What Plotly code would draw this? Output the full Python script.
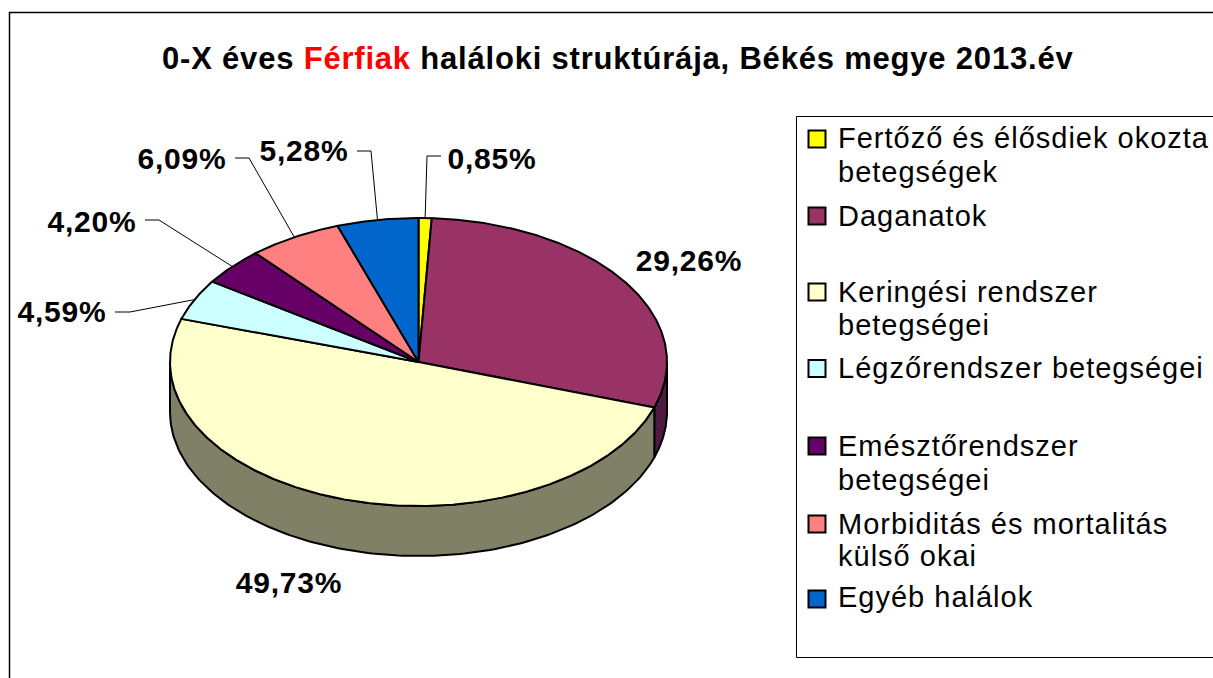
import numpy as np
import plotly.graph_objects as go

# ---- data ----
categories = ["Fertőző és élősdiek okozta betegségek", "Daganatok", "Keringési rendszer betegségei",
              "Légzőrendszer betegségei", "Emésztőrendszer betegségei",
              "Morbiditás és mortalitás külső okai", "Egyéb halálok"]
legend_lines = [["Fertőző és élősdiek okozta", "betegségek"], ["Daganatok"], ["Keringési rendszer", "betegségei"],
                ["Légzőrendszer betegségei"], ["Emésztőrendszer", "betegségei"],
                ["Morbiditás és mortalitás", "külső okai"], ["Egyéb halálok"]]
values = [0.85, 29.26, 49.73, 4.59, 4.20, 6.09, 5.28]
title_parts = ["0-X éves ", "Férfiak", " haláloki struktúrája, Békés megye 2013.év"]

# ---- styles and layout ----
colors = ["#FFFF00", "#993366", "#FFFFCC", "#CCFFFF", "#660066", "#FF8080", "#0066CC"]
side_colors = ["#808000", "#4F1A3F", "#808066", "#668080", "#330033", "#804040", "#003366"]
CX, CY, RX, RY, DEPTH = 418.5, 362, 248.5, 144, 50
FONT = "Liberation Sans, Arial, sans-serif"
label_pos = [(492, 161), (689, 263), (289, 585), (62, 314), (92, 224), (182, 161), (304, 153)]
elbows = [[(427, 156), (441, 156)], None, None, [(130, 312), (115, 312)], [(159, 220), (145, 220)],
          [(249, 158), (235, 158)], [(371, 151), (357, 151)]]
legend_sw_y = [139, 216, 292, 368.5, 446, 524, 599]
legend_txt_y = [[138, 172], [216], [292, 325], [368], [446, 480], [524, 556], [597]]


def px(theta):
    return CX + RX * np.sin(theta), CY - RY * np.cos(theta)


def spaced(text, gap):
    return f"<span style='letter-spacing:{gap}px'>{text}</span>"


fig = go.Figure()
total = sum(values)
edges = np.cumsum([0] + values) / total * 2 * np.pi

# side walls (front half only)
for i, v in enumerate(values):
    a, b = max(edges[i], np.pi / 2), min(edges[i + 1], 3 * np.pi / 2)
    if b <= a:
        continue
    t = np.linspace(a, b, 160)
    x, y = px(t)
    fig.add_trace(go.Scatter(
        x=np.r_[x, x[::-1], x[0]], y=np.r_[y, (y + DEPTH)[::-1], y[0]],
        mode="lines", fill="toself", fillcolor=side_colors[i],
        line=dict(color="black", width=2), hoverinfo="skip", showlegend=False))

# top face wedges
for i, v in enumerate(values):
    t = np.linspace(edges[i], edges[i + 1], max(4, int(v * 8)))
    x, y = px(t)
    fig.add_trace(go.Scatter(
        x=np.r_[CX, x, CX], y=np.r_[CY, y, CY],
        mode="lines", fill="toself", fillcolor=colors[i], name=categories[i],
        line=dict(color="black", width=2), hoverinfo="name", showlegend=False))

# leader lines
for i, el in enumerate(elbows):
    if el is None:
        continue
    x0, y0 = px((edges[i] + edges[i + 1]) / 2)
    fig.add_trace(go.Scatter(
        x=[x0] + [p[0] for p in el], y=[y0] + [p[1] for p in el], mode="lines",
        line=dict(color="black", width=1), hoverinfo="skip", showlegend=False))

# percentage labels
fig.add_trace(go.Scatter(
    x=[p[0] for p in label_pos], y=[p[1] for p in label_pos],
    text=["<b>" + spaced(f"{v:.2f}%".replace(".", ","), 0.8) + "</b>" for v in values],
    mode="text", textposition="middle center",
    textfont=dict(family=FONT, size=30, color="black"),
    hoverinfo="skip", showlegend=False))

# legend swatches
fig.add_trace(go.Scatter(
    x=[817] * len(values), y=legend_sw_y, mode="markers",
    marker=dict(symbol="square", size=17, color=colors, line=dict(color="black", width=2)),
    hoverinfo="skip", showlegend=False))

annotations = []
for lines, ys in zip(legend_lines, legend_txt_y):
    for txt, yy in zip(lines, ys):
        annotations.append(dict(x=836, y=yy, xref="x", yref="y", text=spaced(txt, 1), showarrow=False,
                                xanchor="left", yanchor="middle", align="left",
                                font=dict(family=FONT, size=29, color="black")))
title_html = ("<b>" + spaced(title_parts[0], 0.8)
              + "<span style='color:#FF0000;letter-spacing:0.8px'>" + title_parts[1] + "</span>"
              + spaced(title_parts[2], 0.8) + "</b>")
annotations.append(dict(x=617, y=58, xref="x", yref="y", text=title_html, showarrow=False,
                        xanchor="center", yanchor="middle",
                        font=dict(family=FONT, size=31, color="black")))

shapes = [
    dict(type="rect", x0=9.5, y0=12.5, x1=1300, y1=800, xref="x", yref="y",
         line=dict(color="black", width=1.5), fillcolor="white", layer="below"),
    dict(type="rect", x0=796.5, y0=116.5, x1=1300, y1=657.5, xref="x", yref="y",
         line=dict(color="black", width=1), fillcolor="white", layer="below"),
]

fig.update_layout(
    width=1213, height=678, margin=dict(l=0, r=0, t=0, b=0, pad=0),
    paper_bgcolor="white", plot_bgcolor="white",
    xaxis=dict(range=[0, 1213], visible=False, fixedrange=True),
    yaxis=dict(range=[678, 0], visible=False, fixedrange=True),
    shapes=shapes, annotations=annotations, showlegend=False,
)
fig.write_html("out.html", config=dict(displayModeBar=False),
               post_script="document.body.style.margin='0';document.body.style.overflow='hidden';")
